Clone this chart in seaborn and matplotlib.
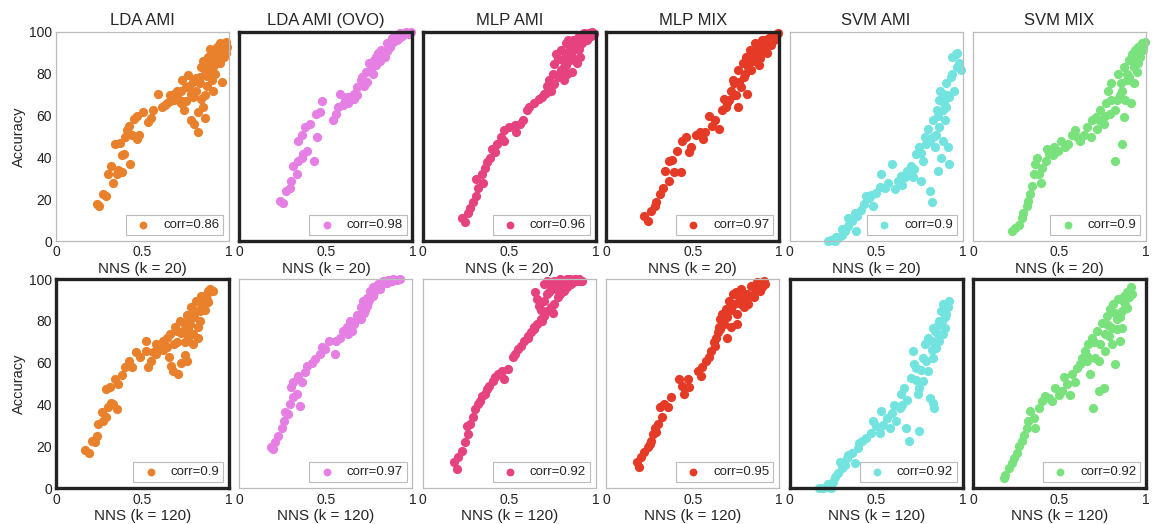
import matplotlib
matplotlib.use("Agg")
import matplotlib.pyplot as plt
import seaborn as sns
import pandas as pd

# ---------------- data ----------------
titles = ["LDA AMI", "LDA AMI (OVO)", "MLP AMI", "MLP MIX", "SVM AMI", "SVM MIX"]
xlabels = ["NNS (k = 20)", "NNS (k = 120)"]
ylabel = "Accuracy"
colors = ["#E8802C", "#E57FE3", "#E6427F", "#E53A25", "#73E3E0", "#7AE27C"]
corr_k20 = [0.86, 0.98, 0.96, 0.97, 0.9, 0.9]
corr_k120 = [0.9, 0.97, 0.92, 0.95, 0.92, 0.92]
highlight_k20 = [False, True, True, True, False, False]
highlight_k120 = [True, False, False, False, True, True]
xticks = [0, 0.5, 1]
xticklabels = ["0", "0.5", "1"]
yticks = [0, 20, 40, 60, 80, 100]

# row 1 (k = 20)
lda_ami_20_x = [0.235,0.25,0.27,0.29,0.30,0.32,0.33,0.35,0.36,0.38,0.34,0.37,0.38,0.39,0.43,0.41,0.44,0.45,0.47,0.47,0.48,0.50,0.53,0.55,0.56,0.59,0.61,0.63,0.66,0.68,0.70,0.72,0.73,0.73,0.74,0.75,0.76,0.78,0.78,0.79,0.80,0.82,0.81,0.83,0.84,0.85,0.86,0.87,0.88,0.89,0.90,0.91,0.92,0.93,0.94,0.95,0.96,0.97,0.975,0.985,0.95,0.91,0.86,0.83,0.81,0.75,0.72,0.68,0.64,0.88,0.90,0.92,0.94,0.96,0.98,0.87,0.85,0.79,0.89,0.91,0.93,0.97,0.99,0.86,0.84,0.82,0.77,0.70,0.66,0.42,0.40]
lda_ami_20_y = [17.7,17,22.5,21.6,32,36,28,32,34,33,46.5,47,41,41.7,37,53,51,58.6,60,49,51,62,57,59,62.6,70.6,64,65,67,70.6,69,72,77,67,62.6,73.8,79.5,70.6,57.8,69,56,52,78,75.4,83.5,64,59,74,88,81,77,72,86.7,93,90,94.7,76,91.5,93,90,85,83.5,82,78.6,72,67,66,67.4,66,84,90,80,88,92,95,79,86,76,92,88,85,88,93,70,68,62,74,72,70,55,50]

lda_ovo_20_x = [0.235,0.25,0.27,0.29,0.30,0.31,0.33,0.34,0.36,0.37,0.39,0.43,0.34,0.36,0.38,0.41,0.44,0.465,0.475,0.45,0.54,0.56,0.57,0.58,0.61,0.64,0.66,0.68,0.70,0.71,0.73,0.75,0.76,0.78,0.80,0.82,0.85,0.88,0.91,0.93,0.72,0.74,0.77,0.79,0.81,0.83,0.86,0.89,0.92,0.95,0.97,0.99,0.68,0.66,0.63,0.60,0.62,0.84,0.87,0.90,0.94,0.96,0.98,0.79,0.82,0.85,0.88,0.91,0.935]
lda_ovo_20_y = [19.3,18.5,24,25.7,29,36,32,38.5,40,41.7,43,38.5,48,51,54.6,56,61,62,67,50,58,61,64,70.6,67,69,70.6,73.8,77,78.6,81,85,82.5,86.7,90,91.5,94.7,97,98.7,99.5,74,76,80,84,86,89,92,95,97,99,99.5,100,70,68,66,65,69,88,93,96,98,100,99,88,88,91,95,96,98]

mlp_ami_20_x = [0.225,0.245,0.26,0.27,0.29,0.31,0.32,0.31,0.34,0.35,0.36,0.37,0.39,0.40,0.415,0.43,0.45,0.47,0.47,0.50,0.53,0.54,0.56,0.58,0.60,0.615,0.64,0.67,0.70,0.72,0.73,0.75,0.76,0.77,0.78,0.80,0.81,0.815,0.825,0.835,0.85,0.86,0.87,0.89,0.90,0.91,0.93,0.95,0.96,0.98,0.99,0.78,0.80,0.76,0.815,0.835,0.85,0.87,0.89,0.92,0.94,0.74,0.83,0.88,0.86,0.90,0.84,0.82,0.79,0.71,0.69,0.97,0.95]
mlp_ami_20_y = [11,9,13.6,16,19,21.7,25.7,29.7,32,28,35,37.7,40,44,42.5,46.5,49.8,48,53,54.6,55.4,52,56,57.8,62.6,64,66,68,70.6,74,77,80,84.6,89.5,87,91.5,86.7,83.5,94.7,89,93,81,96,85,98,88,99.5,96,99.5,100,99,78.6,82,75,77,80,86.7,91.5,94.7,94.7,98,72,84,92,88,92,96,90,80,71,69,98,99]

mlp_mix_20_x = [0.22,0.24,0.26,0.28,0.29,0.31,0.33,0.34,0.36,0.365,0.38,0.39,0.41,0.43,0.44,0.46,0.48,0.49,0.52,0.54,0.56,0.57,0.595,0.61,0.63,0.65,0.67,0.69,0.71,0.72,0.73,0.74,0.76,0.77,0.79,0.795,0.805,0.815,0.82,0.83,0.85,0.86,0.88,0.90,0.92,0.94,0.96,0.98,0.99,0.815,0.835,0.87,0.89,0.91,0.84,0.78,0.74,0.76,0.93,0.95,0.97,0.88,0.80,0.83,0.86,0.89,0.92,0.75,0.70,0.68]
mlp_mix_20_y = [12,9.6,14.4,16.8,19,22.5,25.7,33.7,28.9,38.5,39,33,43,33,48,49.8,42.5,45,51,52,49,52,60,55,57.8,53.8,62.6,64,67.4,72,77,69.8,82,76,85,78.6,88,70.6,83.5,91.5,86,94.7,90,96,93,97,98,98.7,99.5,86.7,82,91.5,87.5,94.7,89,73.8,75.4,64,90,94,96,84,80,86,90,92,96,70,66,68]

svm_ami_20_x = [0.22,0.24,0.26,0.28,0.30,0.32,0.34,0.34,0.36,0.375,0.385,0.39,0.41,0.43,0.44,0.46,0.48,0.50,0.53,0.55,0.57,0.59,0.61,0.625,0.645,0.665,0.68,0.70,0.72,0.73,0.75,0.76,0.77,0.78,0.79,0.80,0.81,0.82,0.83,0.84,0.85,0.855,0.865,0.875,0.885,0.895,0.905,0.915,0.92,0.92,0.93,0.94,0.95,0.96,0.97,0.98,0.99,0.83,0.865,0.885,0.845,0.905,0.81,0.885,0.65,0.71,0.94,0.97,0.87,0.89,0.91,0.86,0.76,0.52,0.47,0.30,0.27]
svm_ami_20_y = [0,0.8,0,1.6,3.2,4.8,7.2,11.2,9.6,13.6,4.8,12,15.2,17.7,21.7,20.9,16.9,23.3,32,25.7,28,37,24.9,29,31.3,30.5,33.7,36,34.5,41.7,45,29,38.5,49.8,46.5,53.8,24,19,57.8,45,62.6,33.7,67.4,40,70.6,57.8,75.4,45,37,69,78.6,88,72,89.5,83.5,85,82,49.8,54.6,62.6,51,64,48,48,27,30.5,80,90,72,66,70,60,42,26,22,6,2]

svm_mix_20_x = [0.225,0.245,0.265,0.28,0.29,0.31,0.32,0.33,0.34,0.35,0.36,0.38,0.39,0.40,0.42,0.44,0.46,0.465,0.49,0.51,0.53,0.55,0.57,0.59,0.60,0.62,0.64,0.66,0.68,0.69,0.71,0.715,0.735,0.755,0.77,0.78,0.79,0.80,0.82,0.83,0.84,0.86,0.86,0.87,0.89,0.90,0.91,0.92,0.93,0.935,0.945,0.955,0.965,0.975,0.985,0.995,0.82,0.88,0.80,0.90,0.93,0.955,0.855,0.87,0.96,0.98,0.85,0.89,0.92,0.94,0.76,0.73,0.37,0.43]
svm_mix_20_y = [4.8,6.4,8,11.2,13.6,16.9,19.3,22.5,26.5,32,37,32,28,35,38.5,41.7,41,45,43,48,45,46.5,51,53,49.8,48,51,54.6,49.8,57.8,59.4,53.8,62.6,56,66,72,61,75.4,38.5,67.4,80,46.5,72,83.5,77,86.7,66,89.5,75.4,91.5,81,93,88,94.7,91.5,95,62.6,67.4,67.4,78.6,83.5,85,75.4,59.4,90,93,70,80,86,90,60,58,40,44]

# row 2 (k = 120)
lda_ami_120_x = [0.17,0.19,0.21,0.225,0.235,0.245,0.265,0.27,0.29,0.30,0.32,0.33,0.35,0.29,0.31,0.34,0.36,0.38,0.40,0.42,0.44,0.465,0.485,0.52,0.53,0.55,0.58,0.60,0.62,0.64,0.65,0.66,0.665,0.675,0.685,0.70,0.705,0.715,0.725,0.735,0.745,0.755,0.765,0.775,0.78,0.79,0.80,0.81,0.82,0.83,0.84,0.85,0.86,0.87,0.88,0.89,0.91,0.82,0.79,0.745,0.755,0.64,0.68,0.58,0.52,0.83,0.86,0.88,0.76,0.72,0.80,0.84,0.87,0.78,0.74,0.70,0.62,0.56]
lda_ami_120_y = [18.3,16.7,22.8,22,25,30.7,36.3,32.3,34,38.7,41,40.3,38,47.5,48.2,52.2,50,54,57.8,61,57.8,65,62.6,70.5,57.8,61,64,67.4,70.5,72,62.6,73.7,58.6,56,77,70,54.6,80,60,75.3,63.7,83,72,78.5,86.5,73.7,81.7,89.6,77,84.9,92,88,91,92.8,94.4,95,94.4,72,69,69.7,61,67.4,69,69,65.8,80,85,89,76,74,85,88,90,82,79,75,66,65]

lda_ovo_120_x = [0.18,0.195,0.205,0.225,0.245,0.255,0.265,0.28,0.29,0.31,0.33,0.35,0.30,0.31,0.34,0.36,0.38,0.39,0.42,0.435,0.465,0.475,0.495,0.52,0.55,0.56,0.58,0.60,0.62,0.64,0.66,0.68,0.70,0.715,0.735,0.755,0.77,0.80,0.83,0.86,0.89,0.91,0.69,0.705,0.725,0.745,0.76,0.78,0.81,0.65,0.63,0.72,0.75,0.79,0.84,0.88,0.67,0.71,0.74,0.77,0.82,0.85,0.93]
lda_ovo_120_y = [19.6,18.8,22,25,29,32.3,36.3,35.5,40.3,43.5,45,39.5,48.2,50.6,53.8,50.6,55.4,58.6,60,61.8,64.2,67.4,66.6,70.5,64.2,70.5,72,75.3,77,80,78.5,83,86.5,89.6,91,94.4,96,97.6,99,99.5,99.8,99.7,81.7,81,85,88.8,92,93.6,95.2,75.3,73.7,84,90,96,98,99,80,84,87,92,97,98,100]

mlp_ami_120_x = [0.18,0.195,0.205,0.225,0.245,0.26,0.255,0.27,0.29,0.30,0.32,0.33,0.34,0.36,0.37,0.385,0.405,0.415,0.435,0.46,0.47,0.49,0.52,0.53,0.55,0.57,0.585,0.605,0.625,0.645,0.66,0.68,0.70,0.72,0.74,0.66,0.65,0.67,0.68,0.70,0.72,0.74,0.76,0.78,0.795,0.815,0.835,0.855,0.87,0.89,0.91,0.92,0.72,0.76,0.795,0.835,0.70,0.78,0.815,0.69,0.75,0.85,0.88,0.90,0.73,0.77,0.81,0.64,0.61]
mlp_ami_120_y = [12.4,9.2,14.8,18,22,26,30,30.7,34,37.9,40.3,41.9,44.3,45,47.5,49,51.4,53,54.6,56.2,52.2,57,62.6,64.2,66.6,68,70.5,73,74.5,76,78.5,81,82.5,84.9,86.5,90.4,93.6,87.3,85,89.6,92.8,96,88,91.2,92.8,94.4,96,97.6,98.4,99.2,98.9,99.2,99.2,99.2,100,100,97.6,97.6,98.4,80,84,100,100,100,94,95,96,77,72]

mlp_mix_120_x = [0.175,0.19,0.20,0.22,0.24,0.26,0.27,0.28,0.30,0.32,0.31,0.335,0.355,0.375,0.42,0.435,0.45,0.47,0.48,0.53,0.545,0.555,0.575,0.595,0.605,0.625,0.635,0.645,0.65,0.66,0.67,0.68,0.69,0.70,0.71,0.72,0.73,0.74,0.757,0.77,0.776,0.795,0.815,0.834,0.853,0.87,0.89,0.91,0.92,0.72,0.757,0.70,0.75,0.80,0.86,0.88,0.78,0.82,0.84,0.90,0.66,0.63,0.25,0.29]
mlp_mix_120_y = [12.4,10,14.8,17.2,19.6,22.8,26,29,30.7,34,38.7,40.3,38.7,43.5,52.2,49,45,52.2,48.2,56.2,53.8,57.8,61,62.6,65.8,69.7,72,74.5,77,81,83.3,78.5,85.8,82,89.6,85,92.8,88,83.3,91.2,95.2,86.5,92.8,96.8,91.2,98.4,94.4,99.2,97.6,77,78.5,72,94,90,95,97,88,88,92,96,76,68,21,27]

svm_ami_120_x = [0.17,0.19,0.21,0.23,0.25,0.26,0.28,0.30,0.29,0.32,0.33,0.34,0.36,0.375,0.395,0.40,0.42,0.44,0.47,0.48,0.50,0.52,0.53,0.54,0.56,0.58,0.59,0.605,0.615,0.635,0.645,0.66,0.67,0.68,0.69,0.70,0.71,0.72,0.73,0.74,0.75,0.76,0.77,0.78,0.79,0.80,0.81,0.82,0.83,0.835,0.845,0.855,0.865,0.875,0.885,0.895,0.905,0.915,0.923,0.865,0.83,0.885,0.75,0.77,0.80,0.73,0.83,0.86,0.90,0.84,0.88,0.82,0.65,0.22,0.24]
svm_ami_120_y = [0,0,0.8,1.6,3.2,5.6,7.2,9.6,12.8,11.2,14.4,16,16.8,12,19.2,21.6,22.4,24,26.4,32,29.6,26.4,36.8,30.4,33.6,28.8,36,40,32,38.4,45,48,28.8,42,22.4,52.8,65.6,59.5,51.7,45,27.2,56.5,62.4,68.8,60.8,72,43.2,70.4,76.8,38.4,67.2,73.6,80,84.8,88,76.8,83.2,86.4,89.6,70.4,62.4,73.6,48,51.2,56,57.6,41,78,82,75,80,66,40,2,0]

svm_mix_120_x = [0.177,0.187,0.206,0.225,0.235,0.254,0.263,0.283,0.292,0.31,0.32,0.33,0.35,0.36,0.38,0.40,0.417,0.437,0.456,0.475,0.494,0.513,0.523,0.542,0.56,0.57,0.59,0.60,0.62,0.63,0.648,0.658,0.667,0.677,0.687,0.696,0.706,0.715,0.725,0.735,0.744,0.754,0.763,0.773,0.783,0.792,0.802,0.81,0.82,0.83,0.84,0.85,0.86,0.87,0.88,0.89,0.90,0.908,0.917,0.725,0.763,0.802,0.83,0.86,0.85,0.89,0.78,0.82,0.87,0.91,0.70,0.66]
svm_mix_120_y = [4.8,6.4,9.6,12,14.4,16.8,20,22.4,25.6,28.8,32,36.8,33.6,28.8,38.4,41.6,44,43.2,41.6,48,44.8,46.4,53,50,44.8,54.4,51,57.6,59.2,62.4,65.6,60.8,68.8,54.4,72,38.4,62.4,75.2,46.4,68.8,79.2,48,65.6,82.4,72.8,85.6,76.8,88,59.2,80.8,90.4,70.4,84.8,92,88,93.6,91.2,94.4,92.8,61,73.6,68.8,76,76.8,82,86,78,84,89,96,70,63]

row_k20 = [(lda_ami_20_x, lda_ami_20_y), (lda_ovo_20_x, lda_ovo_20_y), (mlp_ami_20_x, mlp_ami_20_y),
           (mlp_mix_20_x, mlp_mix_20_y), (svm_ami_20_x, svm_ami_20_y), (svm_mix_20_x, svm_mix_20_y)]
row_k120 = [(lda_ami_120_x, lda_ami_120_y), (lda_ovo_120_x, lda_ovo_120_y), (mlp_ami_120_x, mlp_ami_120_y),
            (mlp_mix_120_x, mlp_mix_120_y), (svm_ami_120_x, svm_ami_120_y), (svm_mix_120_x, svm_mix_120_y)]

# ---------------- plot ----------------
sns.set_style("white")
plt.rcParams['font.family'] = ['Liberation Sans', 'DejaVu Sans']

fig, axes = plt.subplots(2, 6, figsize=(11.53, 5.24), dpi=100)
fig.subplots_adjust(left=0.0486, right=0.994, top=0.939, bottom=0.068, wspace=0.06, hspace=0.18)

rows = [(row_k20, corr_k20, highlight_k20, xlabels[0]), (row_k120, corr_k120, highlight_k120, xlabels[1])]
for r, (rowdata, corrs, hls, xl) in enumerate(rows):
    for c in range(6):
        ax = axes[r, c]
        xs, ys = rowdata[c]
        df = pd.DataFrame({"x": xs, "y": ys})
        sns.scatterplot(data=df, x="x", y="y", ax=ax, color=colors[c], s=44,
                        linewidth=0, alpha=1.0, label=f"corr={corrs[c]}", clip_on=False)
        ax.set_xlim(0, 1)
        ax.set_ylim(0, 100)
        ax.set_xticks(xticks)
        ax.set_xticklabels(xticklabels)
        ax.set_yticks(yticks)
        ax.tick_params(direction="in", length=3, width=0.6, color="#888888",
                       labelsize=10, labelcolor="#222222", pad=3)
        ax.set_xlabel(xl, fontsize=11, labelpad=2)
        if c == 0:
            ax.set_ylabel(ylabel, fontsize=10.5, labelpad=2)
        else:
            ax.set_ylabel("")
            ax.set_yticklabels([])
        if r == 0:
            ax.set_title(titles[c], fontsize=12, pad=5)
        for sp in ax.spines.values():
            if hls[c]:
                sp.set_color("#222222")
                sp.set_linewidth(2.4)
            else:
                sp.set_color("#bbbbbb")
                sp.set_linewidth(0.9)
        leg = ax.legend(loc="lower right", fontsize=9.5, frameon=True, fancybox=False,
                        borderpad=0.3, handletextpad=0.5, handlelength=2.0,
                        markerscale=0.85, borderaxespad=0.45)
        leg.get_frame().set_edgecolor("#aaaaaa")
        leg.get_frame().set_linewidth(0.8)

fig.savefig("out.png", dpi=100)
